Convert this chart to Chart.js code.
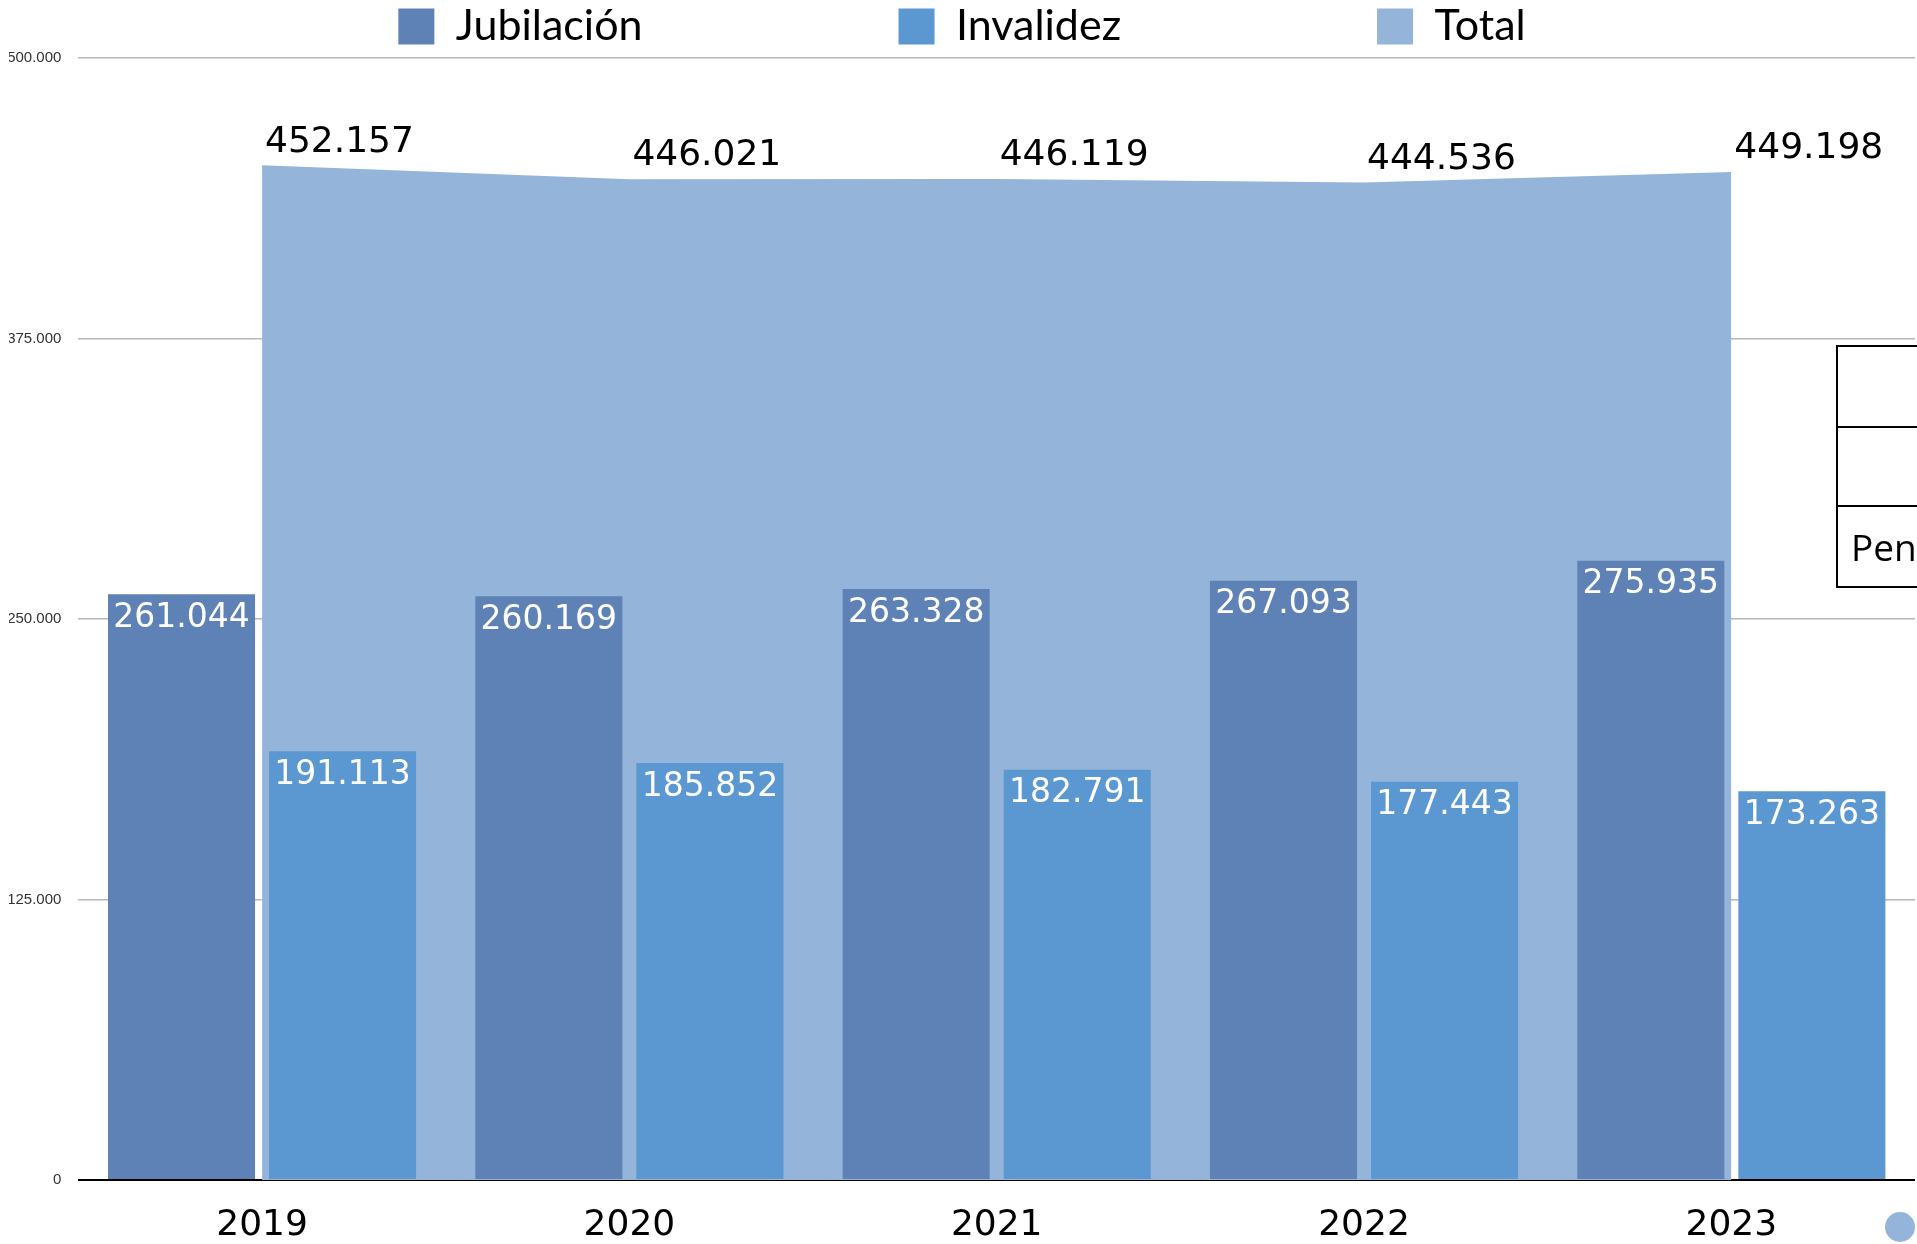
<!DOCTYPE html>
<html>
<head>
<meta charset="utf-8">
<script src="https://cdn.jsdelivr.net/npm/chart.js@4.4.1/dist/chart.umd.min.js"></script>
<style>
  html, body { margin: 0; padding: 0; background: #ffffff; overflow: hidden; width: 1917px; height: 1244px; }
  #wrap { position: relative; width: 1917px; height: 1244px; }
  canvas { position: absolute; left: 0; top: 0; }
  #side { position: absolute; left: 1836px; top: 345px; width: 300px; border-collapse: collapse; font-family: "Open Sans", sans-serif; font-size: 37px; color: #000; }
  #side td { border: 2px solid #000; padding: 0 0 0 13px; }
  #dot { position: absolute; left: 1885px; top: 1212px; width: 30px; height: 30px; border-radius: 50%; background: #95b4d9; }
</style>
</head>
<body>
<div id="wrap">
  <canvas id="c" width="1917" height="1244"></canvas>
  <table id="side">
    <tr><td style="height:79px"></td></tr>
    <tr><td style="height:77px"></td></tr>
    <tr><td style="height:79px">Pensiones</td></tr>
  </table>
  <div id="dot"></div>
</div>
<script>
// ---- data ----
const years = ['2019', '2020', '2021', '2022', '2023'];
const jubilacion = [261044, 260169, 263328, 267093, 275935];
const invalidez = [191113, 185852, 182791, 177443, 173263];
const total = [452157, 446021, 446119, 444536, 449198];
const seriesNames = ['Jubilación', 'Invalidez', 'Total'];
const yTickValues = [0, 125000, 250000, 375000, 500000];
const yTickLabels = ['0', '125.000', '250.000', '375.000', '500.000'];

// ---- helpers ----
function fmt(v) { return String(v).replace(/\B(?=(\d{3})+(?!\d))/g, '.'); }

const COL_JUB = '#5e82b5';
const COL_INV = '#5b98d1';
const COL_TOT = '#95b4d9';
const LEG_PAD = 256;
const LEG_FONT = 43;

const valueLabels = {
  id: 'valueLabels',
  afterDatasetsDraw(chart) {
    const ctx = chart.ctx;
    ctx.save();
    [0, 1].forEach(di => {
      const meta = chart.getDatasetMeta(di);
      const vals = chart.data.datasets[di].data;
      ctx.font = "33px 'DejaVu Sans'";
      ctx.fillStyle = '#ffffff';
      ctx.textAlign = 'center';
      ctx.textBaseline = 'middle';
      meta.data.forEach((el, i) => {
        ctx.fillText(fmt(vals[i]), el.x, el.y + 24);
      });
    });
    const meta = chart.getDatasetMeta(2);
    const vals = chart.data.datasets[2].data;
    ctx.font = "36px 'DejaVu Sans'";
    ctx.fillStyle = '#000000';
    ctx.textAlign = 'left';
    ctx.textBaseline = 'middle';
    meta.data.forEach((el, i) => {
      ctx.fillText(fmt(vals[i]), el.x + 3, el.y - 23);
    });
    ctx.restore();
  }
};

new Chart(document.getElementById('c'), {
  type: 'bar',
  data: {
    labels: years,
    datasets: [
      { label: seriesNames[0], data: jubilacion, backgroundColor: COL_JUB, borderWidth: 0, order: 1,
        categoryPercentage: 0.877, barPercentage: 0.913 },
      { label: seriesNames[1], data: invalidez, backgroundColor: COL_INV, borderWidth: 0, order: 1,
        categoryPercentage: 0.877, barPercentage: 0.913 },
      { label: seriesNames[2], type: 'line', data: total, backgroundColor: COL_TOT, borderColor: COL_TOT,
        borderWidth: 0, pointRadius: 0, pointHoverRadius: 0, fill: 'origin', tension: 0, order: 2 }
    ]
  },
  options: {
    responsive: false,
    animation: false,
    devicePixelRatio: 1,
    layout: { padding: { left: 9, right: 2, top: 2, bottom: 0 } },
    plugins: {
      tooltip: { enabled: false },
      legend: {
        display: true,
        position: 'top',
        align: 'center',
        title: { display: true, text: '', font: { size: 1, lineHeight: 1 }, padding: { top: 0, bottom: 2 - LEG_PAD } },
        labels: {
          boxWidth: 36,
          boxHeight: 36,
          padding: LEG_PAD,
          color: '#000000',
          font: { family: 'Lato', size: LEG_FONT }
        }
      }
    },
    scales: {
      x: {
        offset: true,
        grid: { display: false, drawTicks: false },
        border: { display: false },
        ticks: { color: '#000000', font: { family: 'DejaVu Sans', size: 36 }, padding: 24, maxRotation: 0 },
        afterFit(s) { s.height = 64; }
      },
      y: {
        min: 0,
        max: 500000,
        afterBuildTicks(s) { s.ticks = yTickValues.map(v => ({ value: v })); },
        grid: {
          drawTicks: false,
          color: c => (c.tick && c.tick.value === 0) ? '#000000' : '#b8b8b8',
          lineWidth: c => (c.tick && c.tick.value === 0) ? 2 : 1.5
        },
        border: { display: false },
        ticks: {
          color: '#333333',
          font: { family: 'Liberation Sans', size: 15 },
          padding: 17,
          callback: (v) => { const k = yTickValues.indexOf(v); return k >= 0 ? yTickLabels[k] : ''; }
        },
        afterFit(s) { s.width = 69.4; }
      }
    }
  },
  plugins: [valueLabels]
});
</script>
</body>
</html>
